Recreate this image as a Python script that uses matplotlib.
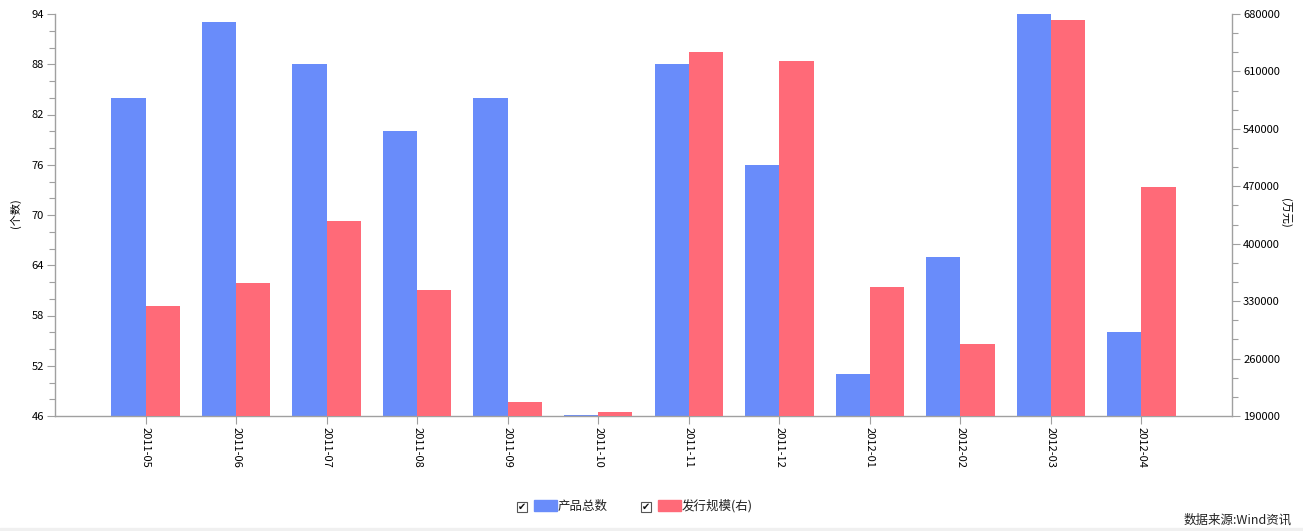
import matplotlib.pyplot as plt
from matplotlib.patches import Rectangle

plt.rcParams['font.family'] = ['Noto Sans CJK SC', 'DejaVu Sans']

months = ['2011-05', '2011-06', '2011-07', '2011-08', '2011-09', '2011-10',
          '2011-11', '2011-12', '2012-01', '2012-02', '2012-03', '2012-04']
product_count = [84, 93, 88, 80, 84, 46.15, 88, 76, 51, 65, 94, 56]
issue_scale = [324000, 352000, 428000, 343500, 207000, 195000,
               633500, 622500, 347000, 278000, 673000, 469000]

left_ticks = list(range(46, 95, 6))
right_ticks = list(range(190000, 680001, 70000))

BLUE = '#698cfa'
RED = '#ff6a78'
AXIS = '#a0a0a0'

fig = plt.figure(figsize=(13.03, 5.31), dpi=100)
ax = fig.add_axes([55 / 1303, 1 - 416 / 531, (1232 - 55) / 1303, (416 - 14) / 531])
ax2 = ax.twinx()

x = list(range(len(months)))
w = 0.378
ax.bar([i - w / 2 for i in x], product_count, width=w, color=BLUE,
       linewidth=0, zorder=2)
ax2.bar([i + w / 2 for i in x], issue_scale, width=w, color=RED,
        linewidth=0, zorder=2)

ax.set_xlim(-1, 12)
ax.set_ylim(left_ticks[0], left_ticks[-1])
ax2.set_ylim(right_ticks[0], right_ticks[-1])

ax.set_yticks(left_ticks)
ax.set_yticks([v + d for v in left_ticks[:-1] for d in (2, 4)], minor=True)
ax2.set_yticks(right_ticks)
ax2.set_yticks([v + d for v in right_ticks[:-1] for d in (70000 / 3, 140000 / 3)],
               minor=True)

ax.set_xticks(x)
ax.set_xticklabels(months, rotation=270, fontsize=8, va='top', ha='center')

for a in (ax, ax2):
    for s in a.spines.values():
        s.set_visible(False)
    a.tick_params(which='major', length=6, width=0.8, color=AXIS, labelsize=8, pad=2)
    a.tick_params(which='minor', length=4, width=0.8, color=AXIS)
ax.spines['left'].set_visible(True)
ax.spines['bottom'].set_visible(True)
ax2.spines['right'].set_visible(True)
for s in (ax.spines['left'], ax.spines['bottom'], ax2.spines['right']):
    s.set_color(AXIS)
    s.set_linewidth(1)

# axis titles
fig.text(15 / 1303, 1 - 213 / 531, '(个数)', fontsize=8, rotation=90,
         ha='center', va='center')
fig.text(1285 / 1303, 1 - 213 / 531, '(万元)', fontsize=8, rotation=270,
         ha='center', va='center')

# legend with check boxes along the bottom
def legend_item(x0, color, label):
    fig.patches.append(Rectangle((x0 / 1303, 1 - 512 / 531), 10 / 1303, 10 / 531,
                                 transform=fig.transFigure, fill=False,
                                 edgecolor='#555555', linewidth=0.8))
    fig.text((x0 + 5) / 1303, 1 - 507 / 531, '✔', fontsize=7, ha='center',
             va='center', family='DejaVu Sans', color='#111111')
    fig.patches.append(Rectangle(((x0 + 17) / 1303, 1 - 511 / 531), 23 / 1303, 11 / 531,
                                 transform=fig.transFigure, color=color))
    fig.text((x0 + 41) / 1303, 1 - 506 / 531, label, fontsize=9, ha='left',
             va='center', color='#222222')

legend_item(517, BLUE, '产品总数')
legend_item(641, RED, '发行规模(右)')

fig.text(1292 / 1303, 1 - 520 / 531, '数据来源:Wind资讯', fontsize=9,
         ha='right', va='center', color='#222222')
fig.patches.append(Rectangle((0, 0), 1, 3 / 531, transform=fig.transFigure,
                             color='#f0f0f0'))

fig.savefig('out.png', dpi=100)
